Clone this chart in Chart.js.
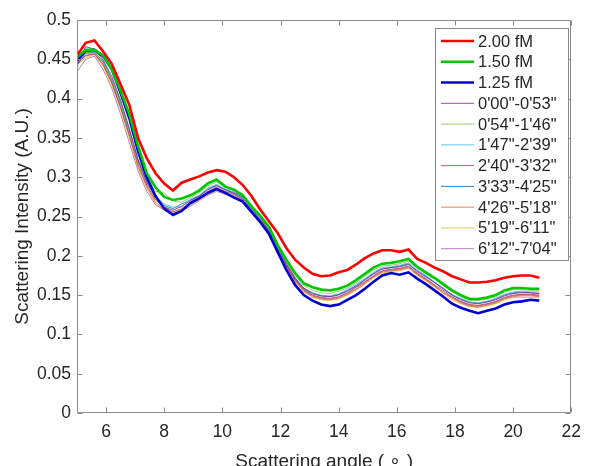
<!DOCTYPE html>
<html>
<head>
<meta charset="utf-8">
<script src="https://cdn.jsdelivr.net/npm/chart.js@4.4.1/dist/chart.umd.min.js"></script>
<style>
html,body{margin:0;padding:0;background:#fff;}
#wrap{width:590px;height:466px;position:relative;}
</style>
</head>
<body>
<div id="wrap"><canvas id="c" width="590" height="466"></canvas></div>
<script>
// ---- data ----
const xs = [5.0,5.3,5.6,5.9,6.2,6.5,6.8,7.1,7.4,7.7,8.0,8.3,8.6,8.9,9.2,9.5,9.8,10.1,10.4,10.7,11.0,11.3,11.6,11.9,12.2,12.5,12.8,13.1,13.4,13.7,14.0,14.3,14.6,14.9,15.2,15.5,15.8,16.1,16.4,16.7,17.0,17.3,17.6,17.9,18.2,18.5,18.8,19.1,19.4,19.7,20.0,20.3,20.6,20.9];

const red200 = [.455,.471,.474,.460,.444,.418,.392,.350,.324,.305,.292,.283,.293,.297,.301,.306,.309,.307,.300,.290,.276,.259,.244,.229,.210,.195,.185,.177,.174,.175,.179,.182,.189,.197,.203,.207,.207,.205,.208,.196,.191,.185,.180,.174,.170,.166,.166,.167,.169,.172,.174,.175,.175,.172];
const green150 = [.453,.462,.462,.455,.437,.410,.380,.340,.305,.287,.275,.271,.273,.277,.283,.292,.297,.288,.284,.277,.263,.251,.237,.214,.195,.178,.165,.160,.157,.156,.158,.162,.169,.177,.185,.190,.191,.193,.196,.186,.179,.172,.164,.156,.150,.145,.145,.147,.150,.156,.159,.159,.158,.158];
const blue125 = [.448,.461,.462,.454,.437,.407,.375,.333,.300,.276,.260,.252,.257,.267,.273,.280,.285,.280,.274,.269,.256,.243,.228,.205,.182,.163,.150,.143,.138,.136,.138,.144,.150,.158,.167,.175,.178,.176,.179,.171,.164,.156,.148,.139,.134,.130,.127,.130,.133,.138,.141,.142,.144,.143];
const t1 = [.445,.466,.463,.449,.428,.398,.362,.322,.294,.274,.262,.258,.263,.270,.276,.284,.289,.284,.280,.275,.262,.249,.233,.211,.190,.172,.159,.152,.149,.148,.150,.155,.161,.169,.177,.183,.185,.186,.189,.180,.173,.166,.158,.150,.144,.140,.139,.141,.144,.149,.152,.153,.153,.152];
const t2 = [.452,.458,.460,.447,.425,.395,.360,.323,.298,.282,.280,.270,.268,.274,.280,.289,.294,.287,.283,.276,.264,.251,.236,.213,.193,.175,.162,.156,.153,.152,.155,.159,.166,.174,.182,.187,.188,.190,.193,.184,.177,.170,.162,.154,.148,.143,.143,.145,.148,.154,.157,.157,.156,.156];
const t3 = [.447,.457,.458,.446,.424,.393,.358,.320,.293,.275,.266,.262,.262,.272,.277,.286,.291,.285,.281,.274,.261,.248,.233,.210,.190,.172,.159,.153,.150,.149,.152,.157,.164,.171,.179,.185,.186,.188,.191,.182,.175,.167,.159,.151,.146,.141,.140,.142,.146,.151,.154,.155,.154,.154];
const t4 = [.444,.455,.457,.444,.421,.390,.355,.317,.290,.271,.262,.256,.260,.268,.274,.282,.287,.282,.278,.272,.259,.246,.231,.208,.188,.170,.157,.150,.147,.146,.148,.153,.160,.167,.175,.181,.183,.184,.187,.178,.171,.163,.156,.148,.142,.138,.137,.139,.142,.147,.150,.151,.151,.150];
const t5 = [.442,.458,.459,.447,.424,.394,.359,.321,.294,.274,.264,.260,.266,.271,.276,.285,.290,.284,.279,.273,.260,.247,.232,.209,.189,.171,.158,.152,.149,.148,.151,.156,.162,.170,.178,.184,.185,.187,.190,.181,.174,.166,.158,.150,.145,.141,.140,.142,.145,.150,.153,.154,.153,.152];
const t6 = [.446,.454,.457,.443,.419,.388,.352,.314,.288,.268,.259,.254,.258,.266,.272,.279,.284,.280,.276,.270,.257,.244,.229,.206,.186,.168,.155,.148,.145,.144,.146,.151,.157,.165,.173,.179,.181,.182,.185,.176,.169,.161,.153,.146,.140,.136,.135,.137,.140,.145,.148,.149,.149,.148];
const t7 = [.443,.452,.456,.441,.417,.386,.350,.312,.286,.267,.258,.255,.259,.265,.271,.278,.283,.279,.275,.269,.256,.243,.228,.205,.185,.167,.154,.147,.144,.143,.145,.150,.156,.164,.172,.178,.180,.181,.184,.175,.168,.160,.152,.144,.139,.135,.134,.136,.139,.144,.147,.147,.147,.147];
const t8 = [.434,.450,.454,.437,.413,.380,.344,.308,.282,.265,.258,.253,.257,.263,.270,.277,.282,.278,.276,.271,.258,.245,.230,.207,.187,.169,.156,.149,.146,.145,.147,.152,.158,.166,.174,.180,.182,.183,.186,.177,.170,.162,.154,.147,.141,.137,.136,.138,.141,.146,.149,.150,.150,.149];

const seriesLabels = ['2.00 fM','1.50 fM','1.25 fM','0\'00"-0\'53"','0\'54"-1\'46"','1\'47"-2\'39"','2\'40"-3\'32"','3\'33"-4\'25"','4\'26"-5\'18"','5\'19"-6\'11"','6\'12"-7\'04"'];
const seriesValues = [red200, green150, blue125, t1, t2, t3, t4, t5, t6, t7, t8];

const xTickValues = [6,8,10,12,14,16,18,20,22];
const xTickLabels = ['6','8','10','12','14','16','18','20','22'];
const yTickValues = [0,0.05,0.1,0.15,0.2,0.25,0.3,0.35,0.4,0.45,0.5];
const yTickLabels = ['0','0.05','0.1','0.15','0.2','0.25','0.3','0.35','0.4','0.45','0.5'];

const xTitle = 'Scattering angle ( \u2218 )';
const yTitle = 'Scattering Intensity (A.U.)';

// ---- styles ----
const colors = ['#ff0000','#00c800','#0000d2','rgba(126,47,142,0.85)','rgba(119,172,48,0.7)','rgba(77,190,238,0.9)','rgba(162,20,47,0.7)','rgba(0,114,189,0.85)','rgba(217,83,25,0.7)','rgba(237,177,32,0.75)','rgba(126,47,142,0.6)'];
const widths = [2.6,2.6,2.6,1,1,1,1,1,1,1,1];
const FONT = '"Liberation Sans", Arial, sans-serif';
const TXT = '#262626';
const AX = '#8a8a8a';

const datasets = seriesValues.map((vals, i) => ({
  label: seriesLabels[i],
  data: xs.map((x, j) => ({x: x, y: vals[j]})),
  borderColor: colors[i],
  backgroundColor: colors[i],
  borderWidth: widths[i],
  pointRadius: 0,
  tension: 0,
  fill: false
}));

const framePlugin = {
  id: 'frame',
  afterDatasetsDraw(chart) {
    const {ctx, chartArea, scales} = chart;
    const L = Math.round(chartArea.left) + 0.5, R = Math.round(chartArea.right) - 0.5;
    const T = Math.round(chartArea.top) + 0.5, B = Math.round(chartArea.bottom) - 0.5;
    ctx.save();
    ctx.strokeStyle = AX;
    ctx.lineWidth = 1;
    ctx.beginPath();
    ctx.moveTo(L, T); ctx.lineTo(R, T); ctx.lineTo(R, B); ctx.lineTo(L, B); ctx.closePath();
    const tl = 5;
    scales.x.ticks.forEach(t => {
      const px = Math.round(scales.x.getPixelForValue(t.value)) + 0.5;
      ctx.moveTo(px, B); ctx.lineTo(px, B - tl);
      ctx.moveTo(px, T); ctx.lineTo(px, T + tl);
    });
    scales.y.ticks.forEach(t => {
      const py = Math.round(scales.y.getPixelForValue(t.value)) + 0.5;
      ctx.moveTo(L, py); ctx.lineTo(L + tl, py);
      ctx.moveTo(R, py); ctx.lineTo(R - tl, py);
    });
    ctx.stroke();
    ctx.restore();
  }
};

const legendPlugin = {
  id: 'boxLegend',
  afterDraw(chart) {
    const {ctx} = chart;
    const bx = 435.5, by = 28.5, bw = 133, bh = 232;
    ctx.save();
    ctx.fillStyle = '#fff';
    ctx.fillRect(bx, by, bw, bh);
    ctx.strokeStyle = '#8a8a8a';
    ctx.lineWidth = 1;
    ctx.strokeRect(bx, by, bw, bh);
    ctx.font = '16.5px ' + FONT;
    ctx.textBaseline = 'middle';
    ctx.textAlign = 'left';
    chart.data.datasets.forEach((ds, i) => {
      const yy = 41 + i * 20.77;
      ctx.beginPath();
      ctx.strokeStyle = ds.borderColor;
      ctx.lineWidth = ds.borderWidth;
      ctx.moveTo(441, yy); ctx.lineTo(474, yy);
      ctx.stroke();
      ctx.fillStyle = TXT;
      ctx.fillText(ds.label, 478, yy + 1);
    });
    ctx.restore();
  }
};

new Chart(document.getElementById('c'), {
  type: 'line',
  data: {datasets},
  options: {
    responsive: false,
    animation: false,
    devicePixelRatio: 1,
    layout: {padding: {left: 0, top: 20, right: 13, bottom: 0}},
    plugins: {legend: {display: false}, tooltip: {enabled: false}},
    scales: {
      x: {
        type: 'linear', min: 5, max: 22,
        grid: {display: false, drawTicks: false},
        border: {display: false},
        afterBuildTicks: s => { s.ticks = xTickValues.map(v => ({value: v})); },
        afterFit: s => { s.height = 53; },
        ticks: {
          autoSkip: false, maxRotation: 0, padding: 9, color: TXT,
          font: {family: FONT, size: 17.5},
          callback: (v) => xTickLabels[xTickValues.indexOf(v)]
        },
        title: {display: true, text: xTitle, color: TXT, font: {family: FONT, size: 19, lineHeight: 1}, padding: {top: 0, bottom: -5}}
      },
      y: {
        type: 'linear', min: 0, max: 0.5,
        grid: {display: false, drawTicks: false},
        border: {display: false},
        afterBuildTicks: s => { s.ticks = yTickValues.map(v => ({value: v})); },
        afterFit: s => { s.width = 77; },
        ticks: {
          autoSkip: false, padding: 6, color: TXT,
          font: {family: FONT, size: 17.5},
          callback: (v) => yTickLabels[yTickValues.indexOf(v)]
        },
        title: {display: true, text: yTitle, color: TXT, font: {family: FONT, size: 19, lineHeight: 1}, padding: {top: 13, bottom: 0}}
      }
    }
  },
  plugins: [framePlugin, legendPlugin]
});
</script>
</body>
</html>
